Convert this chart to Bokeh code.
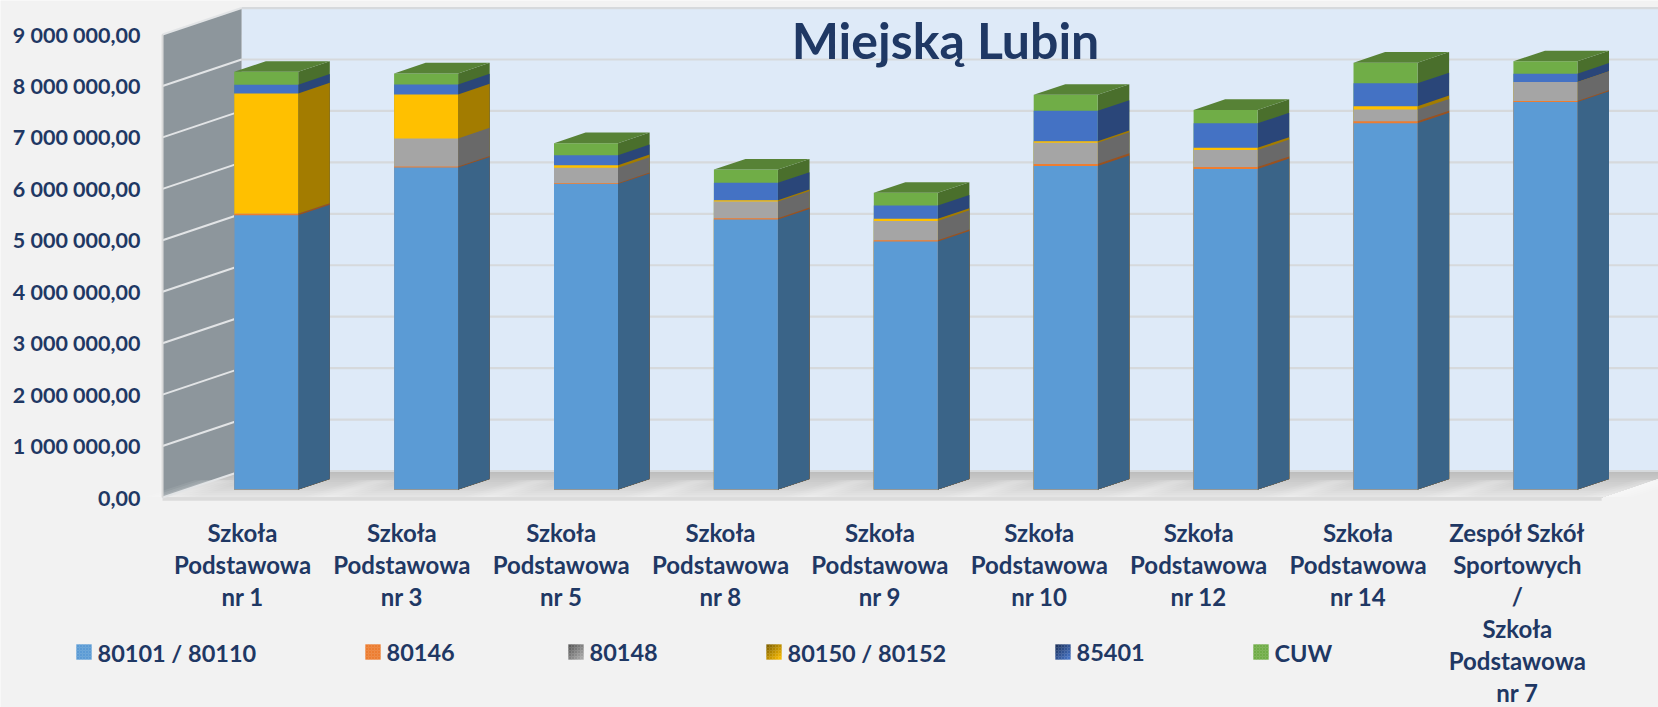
from bokeh.embed import file_html
from bokeh.resources import INLINE
from bokeh.plotting import figure
from bokeh.models import Range1d, FixedTicker
from bokeh.core.properties import value

categories = [
    "Szkoła\nPodstawowa\nnr 1", "Szkoła\nPodstawowa\nnr 3", "Szkoła\nPodstawowa\nnr 5",
    "Szkoła\nPodstawowa\nnr 8", "Szkoła\nPodstawowa\nnr 9", "Szkoła\nPodstawowa\nnr 10",
    "Szkoła\nPodstawowa\nnr 12", "Szkoła\nPodstawowa\nnr 14",
    "Zespół Szkół\nSportowych\n/\nSzkoła\nPodstawowa\nnr 7",
]
series_80101 = [5330000, 6260000, 5940000, 5250000, 4820000, 6290000, 6230000, 7120000, 7535000]
series_80146 = [30000, 20000, 15000, 25000, 27000, 40000, 40000, 40000, 20000]
series_80148 = [0, 545000, 300000, 325000, 376000, 410000, 330000, 226000, 370000]
series_80150 = [2340000, 856000, 50000, 25000, 40000, 33000, 45000, 66000, 0]
series_85401 = [170000, 195000, 195000, 337000, 259000, 590000, 475000, 447000, 160000]
series_cuw = [250000, 214000, 233000, 260000, 247000, 310000, 260000, 400000, 240000]
series_names = ["80101 / 80110", "80146", "80148", "80150 / 80152", "85401", "CUW"]
y_ticks = [0, 1000000, 2000000, 3000000, 4000000, 5000000, 6000000, 7000000, 8000000, 9000000]
y_labels = ["0,00", "1 000 000,00", "2 000 000,00", "3 000 000,00", "4 000 000,00",
            "5 000 000,00", "6 000 000,00", "7 000 000,00", "8 000 000,00", "9 000 000,00"]
title_text = "Miejską Lubin"

front_colors = ["#5B9BD5", "#ED7D31", "#A5A5A5", "#FFC000", "#4472C4", "#70AD47"]
side_colors = ["#3A6488", "#9A5220", "#696969", "#A37C00", "#2A4679", "#4A6F2C"]
legend_from = ["#5B9BD5", "#ED7D31", "#5C5C5C", "#866500", "#1F3560", "#70AD47"]
legend_to = ["#5B9BD5", "#ED7D31", "#A8A8A8", "#F5B800", "#4472C4", "#70AD47"]
legend_px = [76, 365, 568, 766, 1055, 1253]
top_color = "#578236"
navy = "#1F3864"

W, H = 1658, 707
PX_X, PX_Y = 159.9, 51.44          # pixels per category, per million
DX = 79 / PX_X                     # depth shift in category units
DY = 26.5 / PX_Y * 1e6             # depth shift in value units
D0, D1 = 0.3, 0.7                  # depth span of the bars
BAR_W = 64 / PX_X
LABEL_STEP = 0.9966                # the labels run a little tighter than the bars
N = len(categories)


def xd(px):
    return (px - 242) / PX_X


def yd(py):
    return (497 - py) / PX_Y * 1e6


p = figure(width=W, height=H, output_backend="svg", toolbar_location=None,
           x_range=Range1d(xd(0), xd(W)), y_range=Range1d(yd(H), yd(0)),
           background_fill_color="#F2F2F2", border_fill_color="#F2F2F2",
           min_border=0, styles={"position": "absolute", "left": "0", "top": "0"})
p.outline_line_color = None
p.grid.visible = False

# axes, kept on the canvas with fixed locations
x_ticks = [round(i * LABEL_STEP, 4) for i in range(N)]
p.yaxis.ticker = FixedTicker(ticks=y_ticks)
p.yaxis.major_label_overrides = dict(zip(y_ticks, y_labels))
p.xaxis.ticker = FixedTicker(ticks=x_ticks)
p.xaxis.major_label_overrides = dict(zip(x_ticks, categories))
for ax in (p.xaxis[0], p.yaxis[0]):
    ax.axis_line_color = None
    ax.major_tick_line_color = None
    ax.minor_tick_line_color = None
    ax.major_label_text_color = navy
    ax.major_label_text_font = "Lato"
    ax.major_label_text_font_style = "bold"
p.yaxis.major_label_text_font_size = "21.5px"
p.xaxis.major_label_text_font_size = "24px"
p.yaxis.major_label_standoff = 0
p.xaxis.major_label_standoff = 0
p.xaxis.major_label_text_line_height = 1.105
p.yaxis.fixed_location = xd(146)
p.xaxis.fixed_location = yd(511.5)

x_lo, x_hi = -0.5, 8.5

# back wall and left wall
p.patch([x_lo + DX, x_hi + DX, x_hi + DX, x_lo + DX], [DY, DY, 9e6 + DY, 9e6 + DY],
        fill_color="#DEEAF8", line_color=None)
p.patch([x_lo, x_lo + DX, x_lo + DX, x_lo], [0, DY, 9e6 + DY, 9e6],
        fill_color="#8D969C", line_color=None)

# floor, graded from back to front (each strip reaches the front, so no seams)
n_strips = 12
c0, c1 = (0xBC, 0xBC, 0xBC), (0xE6, 0xE6, 0xE6)
for s in range(n_strips):
    a = s / n_strips
    t = (s + 0.5) / n_strips
    col = "#%02X%02X%02X" % tuple(int(c0[k] + (c1[k] - c0[k]) * t) for k in range(3))
    p.patch([x_lo + DX * (1 - a), x_hi + DX * (1 - a), x_hi, x_lo],
            [DY * (1 - a), DY * (1 - a), 0, 0], fill_color=col, line_color=None)
# soft lighter streaks across the floor between bars
for half, alpha in ((0.16, 0.08), (0.12, 0.09), (0.08, 0.10), (0.04, 0.10)):
    lxs, lys = [], []
    for i in range(N + 1):
        cx = i - 0.5 + 0.04
        lxs.append([cx - half, cx + half, cx + half + DX * 0.65, cx - half + DX * 0.65])
        lys.append([DY * 0.02, DY * 0.02, DY * 0.65, DY * 0.65])
    p.patches(lxs, lys, fill_color="#FFFFFF", fill_alpha=alpha, line_color=None)
# front lip of the floor
p.line([x_lo, x_hi], [-30000, -30000], line_color="#DBDBDB", line_width=3.5)

# gridlines on both walls
p.segment(x0=[x_lo + DX] * len(y_ticks), y0=[v + DY for v in y_ticks],
          x1=[x_hi + DX] * len(y_ticks), y1=[v + DY for v in y_ticks],
          line_color="#D6D9DC", line_width=2.2)
p.segment(x0=[x_lo] * len(y_ticks), y0=y_ticks,
          x1=[x_lo + DX] * len(y_ticks), y1=[v + DY for v in y_ticks],
          line_color="#E2E4E6", line_width=2)
p.line([x_lo, x_lo], [0, 9e6], line_color="#D9D9D9", line_width=2)

# title
p.text(x=[xd(945)], y=[yd(39.5)], text=[title_text],
       text_font=value("Lato"), text_font_style="bold", text_font_size="50px",
       text_color=navy, text_align="center", text_baseline="alphabetic")

# stacked 3-D bars: painted from the top series down, each reaching the floor
stacks = [series_80101, series_80146, series_80148, series_80150, series_85401, series_cuw]
tops = []
running = [0.0] * N
for vals in stacks:
    running = [b + v for b, v in zip(running, vals)]
    tops.append(running)
l = [i - BAR_W / 2 + D0 * DX for i in range(N)]
r = [i + BAR_W / 2 + D0 * DX for i in range(N)]
for k in range(len(stacks) - 1, -1, -1):
    top = tops[k]
    side_x = [[r[i], r[i] + (D1 - D0) * DX, r[i] + (D1 - D0) * DX, r[i]] for i in range(N)]
    side_y = [[D0 * DY, D1 * DY, top[i] + D1 * DY, top[i] + D0 * DY] for i in range(N)]
    p.patches(side_x, side_y, fill_color=side_colors[k], line_color=None)
    p.quad(left=l, right=r, bottom=[D0 * DY] * N, top=[t + D0 * DY for t in top],
           fill_color=front_colors[k], line_color=None)
total = tops[-1]
top_x = [[l[i], r[i], r[i] + (D1 - D0) * DX, l[i] + (D1 - D0) * DX] for i in range(N)]
top_y = [[total[i] + D0 * DY, total[i] + D0 * DY, total[i] + D1 * DY, total[i] + D1 * DY] for i in range(N)]
p.patches(top_x, top_y, fill_color=top_color, line_color=None)

# legend: swatches with a diagonal shade and real text labels
cells = 5
cell = 15 / cells


def mix(a, b, t):
    ca = [int(a[j:j + 2], 16) for j in (1, 3, 5)]
    cb = [int(b[j:j + 2], 16) for j in (1, 3, 5)]
    return "#%02X%02X%02X" % tuple(int(u + (v - u) * t) for u, v in zip(ca, cb))


for k, name in enumerate(series_names):
    px = legend_px[k]
    ls, rs, bs, ts, cs = [], [], [], [], []
    for a in range(cells):
        for b in range(cells):
            ls.append(xd(px + a * cell))
            rs.append(xd(px + (a + 1) * cell))
            ts.append(yd(644 + b * cell))
            bs.append(yd(644 + (b + 1) * cell))
            cs.append(mix(legend_from[k], legend_to[k], (a + b) / (2 * cells - 2)))
    p.quad(left=ls, right=rs, top=ts, bottom=bs, fill_color=cs, line_color=cs, line_width=0.3)
p.text(x=[xd(px + 21) for px in legend_px], y=[yd(652)] * 6, text=series_names,
       text_font=value("Lato"), text_font_style="bold", text_font_size="23.5px",
       text_color=navy, text_align="left", text_baseline="alphabetic")

open("out.html", "w").write(file_html(p, INLINE))
